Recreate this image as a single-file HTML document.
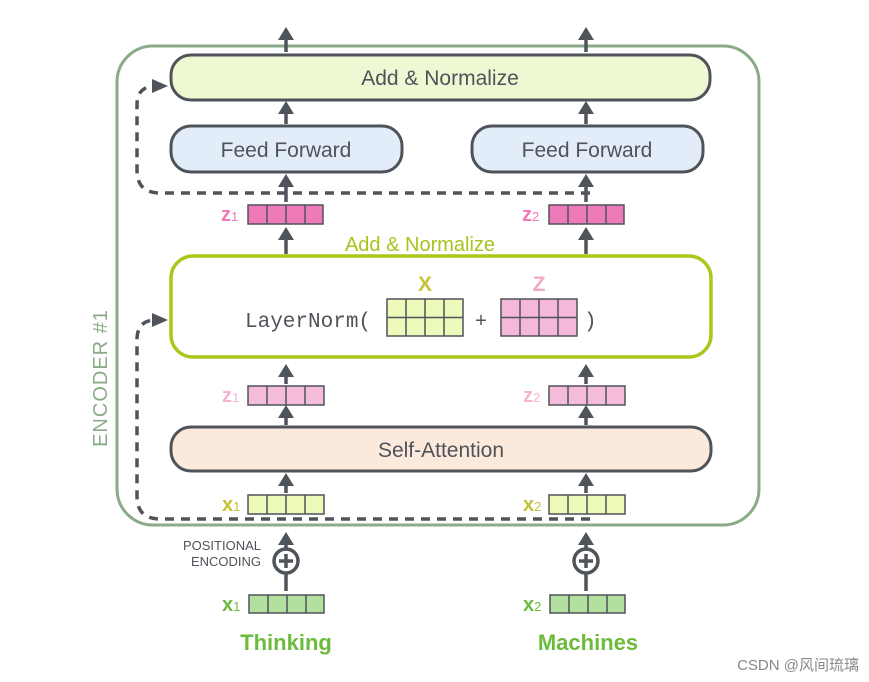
<!DOCTYPE html>
<html><head><style>body{margin:0;background:#fff}svg{display:block}text{font-family:"Liberation Sans",sans-serif}</style></head>
<body>
<svg width="869" height="682" viewBox="0 0 869 682" xmlns="http://www.w3.org/2000/svg">
<defs>
<marker id="ah" markerWidth="8" markerHeight="8" refX="4" refY="4" orient="auto" markerUnits="userSpaceOnUse"><path d="M0,0 L8,4 L0,8 z" fill="#4f535a"/></marker>
</defs>
<rect x="117" y="46" width="642" height="479" rx="36" fill="none" stroke="#8aab88" stroke-width="3"/>
<text transform="translate(107,378) rotate(-90)" text-anchor="middle" font-size="20" fill="#8aab88" letter-spacing="1">ENCODER #1</text>
<!-- dashed residuals -->
<g fill="none" stroke="#4f535a" stroke-width="3.5" stroke-dasharray="9,7">
<path d="M590,193 H160 Q137,193 137,170 V105 Q137,86 156,86"/>
<path d="M590,519 H160 Q137,519 137,496 V340 Q137,320 156,320"/>
</g>
<path d="M152,79 L168,86 L152,93 z" fill="#4f535a"/>
<path d="M152,313 L168,320 L152,327 z" fill="#4f535a"/>
<!-- arrows -->
<g stroke="#4f535a" stroke-width="3.5">
<line x1="286" y1="52" x2="286" y2="36"/><line x1="586" y1="52" x2="586" y2="36"/>
<line x1="286" y1="124" x2="286" y2="110"/><line x1="586" y1="124" x2="586" y2="110"/>
<line x1="286" y1="202" x2="286" y2="182"/><line x1="586" y1="202" x2="586" y2="182"/>
<line x1="286" y1="254" x2="286" y2="236"/><line x1="586" y1="254" x2="586" y2="236"/>
<line x1="286" y1="384" x2="286" y2="372"/><line x1="586" y1="384" x2="586" y2="372"/>
<line x1="286" y1="425" x2="286" y2="414"/><line x1="586" y1="425" x2="586" y2="414"/>
<line x1="286" y1="493" x2="286" y2="482"/><line x1="586" y1="493" x2="586" y2="482"/>
<line x1="286" y1="591" x2="286" y2="545"/><line x1="586" y1="591" x2="586" y2="545"/>
</g>
<g fill="#4f535a">
<path d="M278,40 L286,27 L294,40 z"/><path d="M578,40 L586,27 L594,40 z"/>
<path d="M278,114 L286,101 L294,114 z"/><path d="M578,114 L586,101 L594,114 z"/>
<path d="M278,187 L286,174 L294,187 z"/><path d="M578,187 L586,174 L594,187 z"/>
<path d="M278,240 L286,227 L294,240 z"/><path d="M578,240 L586,227 L594,240 z"/>
<path d="M278,377 L286,364 L294,377 z"/><path d="M578,377 L586,364 L594,377 z"/>
<path d="M278,418 L286,405 L294,418 z"/><path d="M578,418 L586,405 L594,418 z"/>
<path d="M278,486 L286,473 L294,486 z"/><path d="M578,486 L586,473 L594,486 z"/>
<path d="M278,545 L286,532 L294,545 z"/><path d="M578,545 L586,532 L594,545 z"/>
</g>
<!-- boxes -->
<rect x="171" y="55" width="539" height="45" rx="20" fill="#eef8d2" stroke="#4f535a" stroke-width="3"/>
<text x="440" y="85" text-anchor="middle" font-size="21" fill="#4f535a">Add &amp; Normalize</text>
<rect x="171" y="126" width="231" height="46" rx="20" fill="#e3edfa" stroke="#4f535a" stroke-width="3"/>
<text x="286" y="157" text-anchor="middle" font-size="21" fill="#4f535a">Feed Forward</text>
<rect x="472" y="126" width="231" height="46" rx="20" fill="#e3edfa" stroke="#4f535a" stroke-width="3"/>
<text x="587" y="157" text-anchor="middle" font-size="21" fill="#4f535a">Feed Forward</text>
<text x="420" y="251" text-anchor="middle" font-size="20" fill="#a6c51b">Add &amp; Normalize</text>
<rect x="171" y="256" width="540" height="101" rx="22" fill="#fff" stroke="#a8c81c" stroke-width="3.5"/>
<text x="245" y="327" font-family="Liberation Mono,monospace" font-size="21" fill="#4f535a" style="font-family:'Liberation Mono',monospace">LayerNorm(</text>
<text x="481" y="327" text-anchor="middle" font-size="20" fill="#4f535a">+</text>
<text x="584" y="327" font-size="21" fill="#4f535a" style="font-family:'Liberation Mono',monospace">)</text>
<text x="425" y="291" text-anchor="middle" font-size="21" font-weight="bold" fill="#c6c43a">X</text>
<text x="539" y="291" text-anchor="middle" font-size="21" font-weight="bold" fill="#f1a8cb">Z</text>
<g stroke="#4f535a" stroke-width="1.5">
<rect x="387" y="299" width="76" height="37" fill="#eefabc"/>
<line x1="387" y1="317.5" x2="463" y2="317.5"/><line x1="406" y1="299" x2="406" y2="336"/><line x1="425" y1="299" x2="425" y2="336"/><line x1="444" y1="299" x2="444" y2="336"/>
<rect x="501" y="299" width="76" height="37" fill="#f4b8d8"/>
<line x1="501" y1="317.5" x2="577" y2="317.5"/><line x1="520" y1="299" x2="520" y2="336"/><line x1="539" y1="299" x2="539" y2="336"/><line x1="558" y1="299" x2="558" y2="336"/>
</g>
<rect x="171" y="427" width="540" height="44" rx="20" fill="#fbeadb" stroke="#4f535a" stroke-width="3"/>
<text x="441" y="457" text-anchor="middle" font-size="21" fill="#4f535a">Self-Attention</text>
<!-- vectors -->
<g stroke="#4f535a" stroke-width="1.5">
<g fill="#ee7ab9"><rect x="248" y="205" width="75" height="19"/><rect x="549" y="205" width="75" height="19"/></g>
<g fill="#f4bcd9"><rect x="248" y="386" width="76" height="19"/><rect x="549" y="386" width="76" height="19"/></g>
<g fill="#eefab8"><rect x="248" y="495" width="76" height="19"/><rect x="549" y="495" width="76" height="19"/></g>
<g fill="#b3dfa0"><rect x="249" y="595" width="75" height="18"/><rect x="550" y="595" width="75" height="18"/></g>
<path d="M267,205v19M286,205v19M305,205v19M568,205v19M587,205v19M606,205v19
M267,386v19M286,386v19M305,386v19M568,386v19M587,386v19M606,386v19
M267,495v19M286,495v19M305,495v19M568,495v19M587,495v19M606,495v19
M268,595v18M287,595v18M306,595v18M569,595v18M588,595v18M607,595v18"/>
</g>
<g font-weight="bold" font-size="20">
<text x="221" y="221" fill="#ee7ab9">z<tspan font-size="13" font-weight="normal">1</tspan></text>
<text x="522" y="221" fill="#ee7ab9">z<tspan font-size="13" font-weight="normal">2</tspan></text>
<text x="222" y="402" fill="#f4b4d4">z<tspan font-size="13" font-weight="normal">1</tspan></text>
<text x="523" y="402" fill="#f4b4d4">z<tspan font-size="13" font-weight="normal">2</tspan></text>
<text x="222" y="511" fill="#c2c236">x<tspan font-size="13" font-weight="normal">1</tspan></text>
<text x="523" y="511" fill="#c2c236">x<tspan font-size="13" font-weight="normal">2</tspan></text>
<text x="222" y="611" fill="#6cbb3c">x<tspan font-size="13" font-weight="normal">1</tspan></text>
<text x="523" y="611" fill="#6cbb3c">x<tspan font-size="13" font-weight="normal">2</tspan></text>
</g>
<!-- positional -->
<g fill="#fff" stroke="#4f535a" stroke-width="3.5">
<circle cx="286" cy="561" r="12"/><circle cx="586" cy="561" r="12"/>
</g>
<g stroke="#4f535a" stroke-width="3.5"><path d="M279,561h14M286,554v14M579,561h14M586,554v14"/></g>
<text x="261" y="550" text-anchor="end" font-size="13" fill="#4f535a">POSITIONAL</text>
<text x="261" y="566" text-anchor="end" font-size="13" fill="#4f535a">ENCODING</text>
<text x="286" y="650" text-anchor="middle" font-size="22" font-weight="bold" fill="#6cbb3c">Thinking</text>
<text x="588" y="650" text-anchor="middle" font-size="22" font-weight="bold" fill="#6cbb3c">Machines</text>
<text x="859" y="670" text-anchor="end" font-size="15" fill="#888" style="font-family:'Liberation Sans','Noto Sans CJK SC',sans-serif">CSDN @风间琉璃</text>
</svg>
</body></html>
